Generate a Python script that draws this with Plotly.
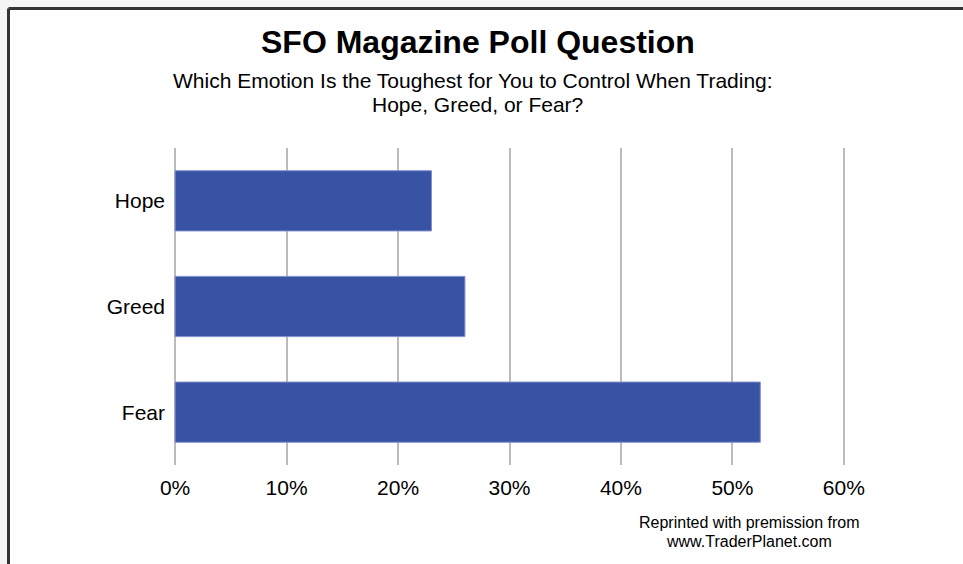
import plotly.graph_objects as go

categories = ["Hope", "Greed", "Fear"]
values = [23, 26, 52.5]
tick_vals = [0, 10, 20, 30, 40, 50, 60]
tick_text = ["0%", "10%", "20%", "30%", "40%", "50%", "60%"]

W, H = 963, 564
L, R, T, B = 174, 118, 148, 99
pw, ph = W - L - R, H - T - B

def px_x(x):
    return (x - L) / pw

def px_y(y):
    return (H - B - y) / ph

FONT = "Liberation Sans, Arial, Helvetica, sans-serif"
GRID = "#BBBBBB"

fig = go.Figure(go.Bar(
    y=categories, x=values, orientation="h",
    marker=dict(color="#3953A4", line=dict(color="#7F8FD0", width=1)),
    width=0.57,
))

fig.update_layout(
    width=W, height=H,
    margin=dict(l=L, r=R, t=T, b=B, pad=0),
    paper_bgcolor="white", plot_bgcolor="white",
    showlegend=False,
    font=dict(family=FONT, color="black"),
    xaxis=dict(range=[-0.1, 60.1], tickvals=tick_vals, ticktext=tick_text,
               showgrid=True, gridcolor=GRID, gridwidth=2,
               zeroline=True, zerolinecolor=GRID, zerolinewidth=2,
               showline=False, ticks="",
               tickfont=dict(size=21, family=FONT, color="black"),
               ticklabelstandoff=8, fixedrange=True),
    yaxis=dict(categoryorder="array", categoryarray=categories[::-1],
               range=[-0.5, 2.5], showgrid=False, zeroline=False,
               showline=False, ticks="",
               tickfont=dict(size=21, family=FONT, color="black"),
               ticklabelstandoff=8, fixedrange=True),
)

# page frame
fig.add_shape(type="rect", xref="paper", yref="paper",
              x0=px_x(0), x1=px_x(W), y0=px_y(0), y1=px_y(7),
              fillcolor="#F4F4F4", line=dict(width=0), layer="below")
fig.add_shape(type="rect", xref="paper", yref="paper",
              x0=px_x(0), x1=px_x(7), y0=px_y(0), y1=px_y(H),
              fillcolor="#F4F4F4", line=dict(width=0), layer="below")
fig.add_shape(type="line", xref="paper", yref="paper",
              x0=px_x(8.5), x1=px_x(W), y0=px_y(8.5), y1=px_y(8.5),
              line=dict(color="#333333", width=3))
fig.add_shape(type="line", xref="paper", yref="paper",
              x0=px_x(8.5), x1=px_x(8.5), y0=px_y(8.5), y1=px_y(H),
              line=dict(color="#333333", width=3))

fig.add_annotation(text="<b>SFO Magazine Poll Question</b>", xref="paper", yref="paper",
                   x=px_x(478), y=px_y(42), showarrow=False,
                   font=dict(size=32, family=FONT, color="black"),
                   xanchor="center", yanchor="middle")
fig.add_annotation(text="Which Emotion Is the Toughest for You to Control When Trading:",
                   xref="paper", yref="paper", x=px_x(473), y=px_y(80), showarrow=False,
                   font=dict(size=21, family=FONT, color="black"),
                   xanchor="center", yanchor="middle")
fig.add_annotation(text="Hope, Greed, or Fear?",
                   xref="paper", yref="paper", x=px_x(477), y=px_y(104), showarrow=False,
                   font=dict(size=21, family=FONT, color="black"),
                   xanchor="center", yanchor="middle")
fig.add_annotation(text="Reprinted with premission from",
                   xref="paper", yref="paper", x=px_x(749), y=px_y(522), showarrow=False,
                   font=dict(size=16, family=FONT, color="black"),
                   xanchor="center", yanchor="middle")
fig.add_annotation(text="www.TraderPlanet.com",
                   xref="paper", yref="paper", x=px_x(749), y=px_y(541), showarrow=False,
                   font=dict(size=16, family=FONT, color="black"),
                   xanchor="center", yanchor="middle")

fig.write_html("out.html", config={"displayModeBar": False},
               post_script="document.body.style.margin='0';")
